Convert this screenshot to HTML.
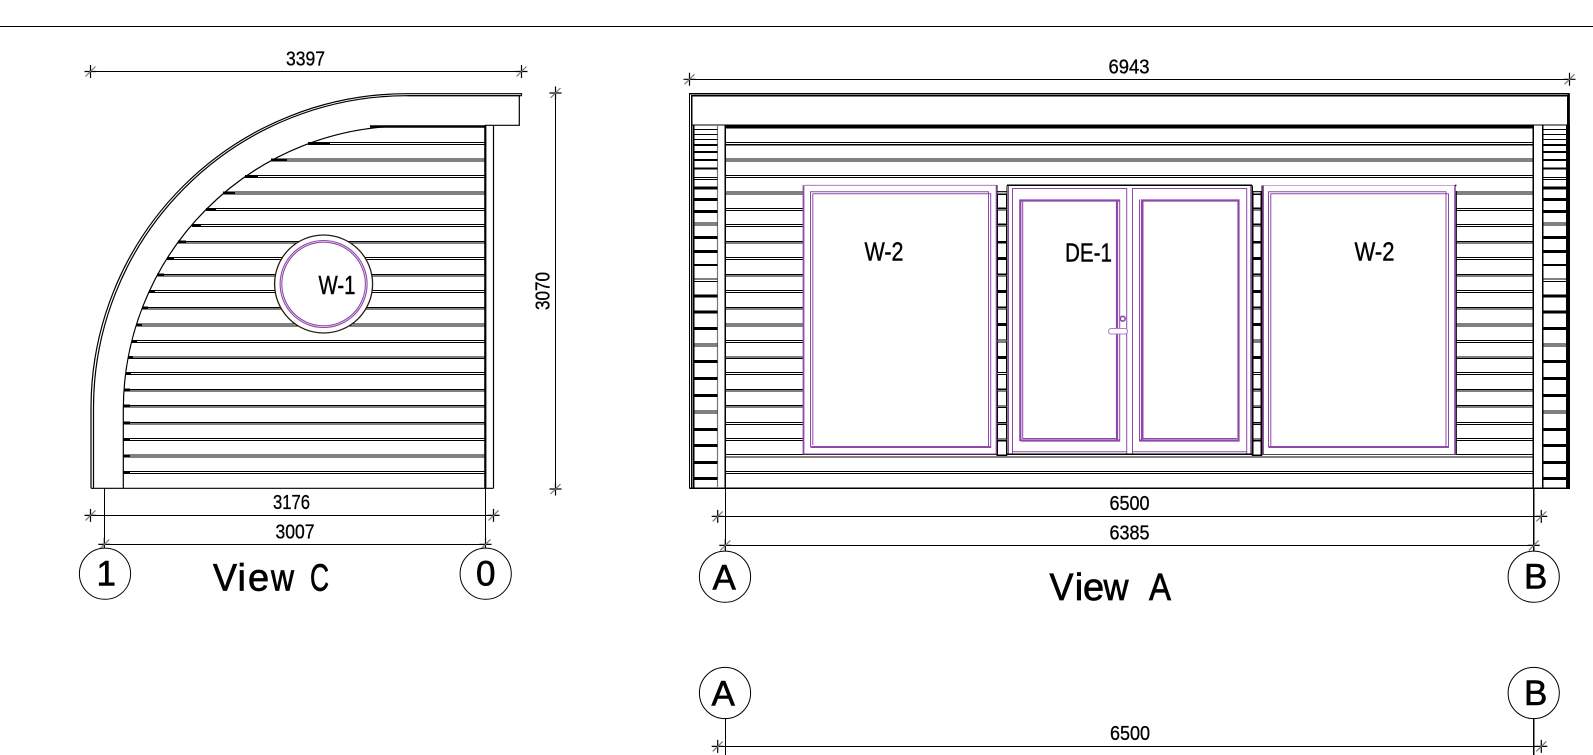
<!DOCTYPE html>
<html>
<head>
<meta charset="utf-8">
<style>
html,body{margin:0;padding:0;background:#fff;width:1593px;height:755px;overflow:hidden}
svg{display:block}
text{font-family:"Liberation Sans",sans-serif;fill:#000;stroke:#000}
.d{font-size:20px;stroke-width:.3px}
.v{font-size:38px;stroke-width:.7px}
.c{font-size:35px;stroke-width:.6px}
.w{font-size:26px;stroke-width:.4px}
.x{shape-rendering:crispEdges}
</style>
</head>
<body>
<svg xmlns="http://www.w3.org/2000/svg" width="1593" height="755" viewBox="0 0 1593 755">
<defs>
<g id="t"><path d="M0-6.5V6.5M-6 0H6" stroke="#000" stroke-width="1.2" fill="none"/><path d="M-5 5L5-5" stroke="#777" stroke-width="1.2" fill="none"/></g>
<g id="sq" fill="#fff" stroke="#000" stroke-width="1.2" class="x">
<rect x="0" y="194.3" width="9" height="14"/><rect x="0" y="210" width="9" height="14.3"/><rect x="0" y="226" width="9" height="15.7"/><rect x="0" y="243" width="9" height="14.7"/><rect x="0" y="259.3" width="9" height="15"/><rect x="0" y="276" width="9" height="14.7"/><rect x="0" y="292.3" width="9" height="15"/><rect x="0" y="309" width="9" height="14.7"/><rect x="0" y="325.3" width="9" height="14.7"/><rect x="0" y="342" width="9" height="14.7"/><rect x="0" y="358.3" width="9" height="14.2"/><rect x="0" y="374.5" width="9" height="14.8"/><rect x="0" y="391" width="9" height="15"/><rect x="0" y="407.5" width="9" height="15"/><rect x="0" y="424.3" width="9" height="14.7"/><rect x="0" y="440.8" width="9" height="14.2"/>
</g>
<g id="bars" fill="none" stroke="#000" class="x">
<path stroke-width="1" d="M0 129.5H24M0 134.5H24M0 139.5H24M0 177.5H24M0 179.5H24M0 223H24M0 225H24M0 279H24M0 281.5H24M0 344H24M0 346H24M0 411H24M0 413H24"/>
<path stroke-width="2" d="M0 145H24M0 152H24M0 160H24M0 168.7H24M0 265H24"/>
<path stroke-width="3" d="M0 188H24M0 199.3H24M0 211.3H24M0 237.3H24M0 251.3H24M0 296H24M0 312H24M0 328.3H24M0 361.3H24M0 378.3H24M0 395.3H24M0 429.3H24M0 445.3H24M0 462.3H24M0 478.3H24"/>
</g>
</defs>

<path d="M0 26.5H1593" stroke="#000" stroke-width="1.1" class="x"/>

<!-- LEFT VIEW siding -->
<g fill="none" stroke="#000" stroke-width="1.1" class="x">
<path d="M312 142.5H485M312 144.5H485M275 159H485M275 161H485M246.5 175.5H485M246.5 177.5H485M225.5 192H485M225.5 194H485M206.5 208.5H485M206.5 210.5H485M192 224.5H485M192 226.5H485M178 241.5H485M178 243H485M167 257.5H485M167 259.5H485M157 274.5H485M157 276H485M149 290.5H485M149 292.5H485M142 307.5H485M142 309H485M136 324H485M136 326H485M131.5 340.5H485M131.5 342.5H485M128 357H485M128 358.5H485M125.5 372.5H485M125.5 374.5H485M124 389.5H485M124 391H485M123.5 405.5H485M123.5 407H485M123.5 422.5H485M123.5 424H485M123.5 438.5H485M123.5 440.5H485M123.5 455H485M123.5 457H485M123.5 471.5H485M123.5 473.5H485"/>
</g>
<path class="x" stroke="#000" stroke-width="3" fill="none" d="M308 143.5H330M271 160H287M245 176.5H258M223 193H235M206 209.5H216M192 225.5H201M178 242H186M167 258.5H174M157 275H164M149 291.5H155M142 308H148M136 325H142M131.5 341.5H137M128 357.7H133M125.5 373.5H131M124 390H130M123.5 406H130M123.5 423H130M123.5 439.5H130M123.5 456H130M123.5 472.5H130"/>
<!-- left view roof and frame -->
<g fill="none" stroke="#000" stroke-width="1.2">
<path d="M91 488.3V408A316 314.5 0 0 1 407 93.7H521.5V95.7H407A313.5 312.3 0 0 0 93.5 408V488.3"/>
<path d="M407 95.7H519.3V125.3H485"/>
<path d="M123.3 488.3V410A283.7 284 0 0 1 407 126"/>
<path d="M91 488.3H493.5M493.5 125.3V488.3"/>
</g>
<path d="M370 126.5H485" stroke="#000" stroke-width="2.4"/>
<path d="M485.3 125V488" stroke="#000" stroke-width="2.2"/>
<!-- W-1 -->
<circle cx="323.6" cy="284" r="49" fill="#fff" stroke="#2a1a10" stroke-width="1.3"/>
<circle cx="323.6" cy="284" r="43.5" fill="none" stroke="#8e48aa" stroke-width="1.1"/>
<circle cx="323.6" cy="284" r="41.8" fill="none" stroke="#8e48aa" stroke-width="1.1"/>
<text class="w" x="318.5" y="294" textLength="37" lengthAdjust="spacingAndGlyphs">W-1</text>

<!-- left view dims -->
<g fill="none" stroke="#000" stroke-width="1.1" class="x">
<path d="M90.5 71.5H521.5M555.5 93V488.7M90.5 515.4H493.5M104.3 544.4H485.5M104.3 488.3V552M485.5 488.3V552"/>
</g>
<use href="#t" x="90.5" y="71.5"/><use href="#t" x="521.5" y="71.5"/>
<use href="#t" x="555.5" y="93"/><use href="#t" x="555.5" y="489"/>
<use href="#t" x="90.5" y="515.4"/><use href="#t" x="493.5" y="515.4"/>
<use href="#t" x="104.3" y="544.4"/><use href="#t" x="485.5" y="544.4"/>
<text class="d" x="286" y="65.7" textLength="39" lengthAdjust="spacingAndGlyphs">3397</text>
<text class="d" x="273" y="509" textLength="37" lengthAdjust="spacingAndGlyphs">3176</text>
<text class="d" x="275.5" y="538.3" textLength="39" lengthAdjust="spacingAndGlyphs">3007</text>
<text class="d" transform="translate(549.3 310) rotate(-90)" textLength="38" lengthAdjust="spacingAndGlyphs">3070</text>
<circle cx="105" cy="573.7" r="25.6" fill="#fff" stroke="#000" stroke-width="1"/>
<circle cx="485.7" cy="573.7" r="25.6" fill="#fff" stroke="#000" stroke-width="1"/>
<text class="c" x="96.5" y="585.5">1</text>
<text class="c" x="476" y="585.5" textLength="19.5" lengthAdjust="spacingAndGlyphs">0</text>
<text class="v" x="213" y="590.7" textLength="24" lengthAdjust="spacingAndGlyphs">V</text>
<text class="v" x="237.5" y="590.7">i</text>
<text class="v" x="248" y="590.7">e</text>
<text class="v" x="271" y="590.7" textLength="23" lengthAdjust="spacingAndGlyphs">w</text>
<text class="v" x="310" y="590.7" textLength="19" lengthAdjust="spacingAndGlyphs">C</text>

<!-- RIGHT VIEW siding -->
<g fill="none" stroke="#000" stroke-width="1.1" class="x">
<path d="M725 142.5H1533M725 144.7H1533M725 159H1533M725 161H1533M725 175.5H1533M725 177.5H1533M725 192H1533M725 194H1533M725 208.5H1533M725 210.5H1533M725 224.5H1533M725 226.3H1533M725 241.5H1533M725 243H1533M725 257.5H1533M725 259.3H1533M725 274.5H1533M725 276H1533M725 290.5H1533M725 292.5H1533M725 307.5H1533M725 309H1533M725 324H1533M725 326H1533M725 340.5H1533M725 342.5H1533M725 357H1533M725 358.5H1533M725 372.5H1533M725 374.5H1533M725 389.5H1533M725 391H1533M725 405.5H1533M725 407H1533M725 422.5H1533M725 424.3H1533M725 438.5H1533M725 440.3H1533M725 454.5H1533M725 457H1533M725 471.5H1533M725 473.5H1533"/>
</g>
<!-- frame -->
<g fill="none" stroke="#000" stroke-width="1.2" class="x">
<path d="M689.5 488.3V93.7H1569.5M691.8 488.3V95.8H1567.5V125M693.8 125V488.3M689.5 488.3H1569.5M691.8 125H1567.5"/>
<path d="M725.3 125V488.3M1533.3 125V488.3M1542.7 125V488.3"/>
</g>
<path d="M1568.7 93.7V125" stroke="#000" stroke-width="2.4"/>
<rect x="1566" y="125" width="4" height="364" fill="#000"/>
<rect x="725.3" y="125" width="808" height="3.5" fill="#000"/>
<path d="M717.5 125V488" stroke="#777" stroke-width="1.2"/>
<use href="#bars" x="693.7"/><use href="#bars" x="1542.5"/>

<!-- windows and door -->
<rect x="803" y="185" width="653" height="269.3" fill="#fff"/>
<path d="M803.5 454V185.5H996.5V454H803.5" fill="none" stroke="#8e48aa" stroke-width="1"/>
<path d="M803.5 185V454" stroke="#8e48aa" stroke-width="1.8"/>
<path d="M803 185.3H996.5" stroke="#c7a5d4" stroke-width="1"/>
<path d="M810.5 446.5V191.7H988.5V446.5H810.5M812.8 445V193.7H990.7V447.5H810.5" fill="none" stroke="#8e48aa" stroke-width="1"/>
<path d="M810.5 447H990.7" stroke="#8e48aa" stroke-width="2"/>
<!-- columns -->
<use href="#sq" x="997.5"/><use href="#sq" x="1252.5"/>
<path d="M997 185V455.5H1007M1007 185.3V455.5M1007 185.3H1252M1252.3 185.3V455.5M1262 185.3V455.5M1252 455.5H1262" fill="none" stroke="#000" stroke-width="1.3" class="x"/>
<path d="M1252.5 191V455" stroke="#000" stroke-width="2"/>
<path d="M1261.5 191V455" stroke="#000" stroke-width="2"/>
<path d="M997 191.7H1007M1252 191.7H1262" stroke="#000" stroke-width="1.2"/>
<path d="M996.3 185V454" stroke="#8e48aa" stroke-width="1.2"/>
<path d="M1263.3 185V454" stroke="#8e48aa" stroke-width="1.3"/>
<!-- door -->
<g fill="none" stroke="#8e48aa" stroke-width="1">
<path d="M1008.5 186V454M1012.5 454V188.5H1126.7V454M1132.5 454V188.5H1246.7V454M1250.7 186V454"/>
<path d="M1012.5 451.7H1126.7M1132.5 451.7H1246.7"/>
<path d="M1119.7 199.5V441.5M1139.5 199.5V441.5"/>
<path d="M1022.7 201V438.5H1116M1143 201V438.5H1237"/>
</g>
<path d="M1020.3 441V200.5H1119.5M1020.3 440.5H1119.5M1117 200V440.5" fill="none" stroke="#8e48aa" stroke-width="2.2"/>
<path d="M1142 441V200.5H1238.5V440.5H1139.5" fill="none" stroke="#8e48aa" stroke-width="2.2"/>
<circle cx="1122.7" cy="318.7" r="2.4" fill="#fff" stroke="#8e48aa" stroke-width="1.6"/>
<rect x="1108.5" y="328.5" width="19" height="5.5" rx="2.7" fill="#fff" stroke="#b07cc6" stroke-width="1"/>
<!-- right window -->
<path d="M1263.5 185.5H1455.5" stroke="#c7a5d4" stroke-width="1"/>
<path d="M1268.5 447V191.7H1446V446.5M1270.8 446V193.7H1448.5V447.5H1268.5" fill="none" stroke="#8e48aa" stroke-width="1"/>
<path d="M1268.5 447H1448.5" stroke="#8e48aa" stroke-width="2"/>
<path d="M1455 185V454" stroke="#8e48aa" stroke-width="1.6"/>
<path d="M1456.3 191V454M1455 185.3H1456.5" stroke="#000" stroke-width="1.1"/>
<path d="M1006 454H1253" stroke="#000" stroke-width="1.1" class="x"/>

<text class="w" x="864.5" y="260.7" textLength="39" lengthAdjust="spacingAndGlyphs">W-2</text>
<text class="w" x="1065" y="261.5" textLength="47" lengthAdjust="spacingAndGlyphs">DE-1</text>
<text class="w" x="1354.5" y="260.7" textLength="40" lengthAdjust="spacingAndGlyphs">W-2</text>

<!-- right dims -->
<g fill="none" stroke="#000" stroke-width="1.1" class="x">
<path d="M689.5 79.3H1569.5M717.7 516.4H1541.3M725.3 545.4H1533.7M725.3 488.3V553M1533.7 488.3V553M717.7 746.4H1541.3M725.3 719V755M1533.7 719V755"/>
</g>
<use href="#t" x="689.5" y="79.3"/><use href="#t" x="1569.5" y="79.3"/>
<use href="#t" x="717.7" y="516.4"/><use href="#t" x="1541.3" y="516.4"/>
<use href="#t" x="725.3" y="545.4"/><use href="#t" x="1533.7" y="545.4"/>
<use href="#t" x="717.7" y="746.4"/><use href="#t" x="1541.3" y="746.4"/>
<text class="d" x="1108.5" y="73.5" textLength="41" lengthAdjust="spacingAndGlyphs">6943</text>
<text class="d" x="1109.5" y="510" textLength="40" lengthAdjust="spacingAndGlyphs">6500</text>
<text class="d" x="1109.5" y="539.3" textLength="40" lengthAdjust="spacingAndGlyphs">6385</text>
<text class="d" x="1110" y="740" textLength="40" lengthAdjust="spacingAndGlyphs">6500</text>
<g fill="#fff" stroke="#000" stroke-width="1">
<circle cx="725" cy="576.7" r="25.6"/><circle cx="1533.7" cy="576.7" r="25.6"/>
<circle cx="725" cy="693" r="25.6"/><circle cx="1533.7" cy="693" r="25.6"/>
</g>
<text class="c" x="712.5" y="589.3">A</text>
<text class="c" x="1524" y="588.5">B</text>
<text class="c" x="711.5" y="705.3">A</text>
<text class="c" x="1524" y="705">B</text>
<text class="v" x="1049.5" y="600" textLength="24" lengthAdjust="spacingAndGlyphs">V</text>
<text class="v" x="1074.8" y="600">i</text>
<text class="v" x="1083" y="600">e</text>
<text class="v" x="1103.5" y="600" textLength="25" lengthAdjust="spacingAndGlyphs">w</text>
<text class="v" x="1149" y="600" textLength="22" lengthAdjust="spacingAndGlyphs">A</text>
</svg>
</body>
</html>
